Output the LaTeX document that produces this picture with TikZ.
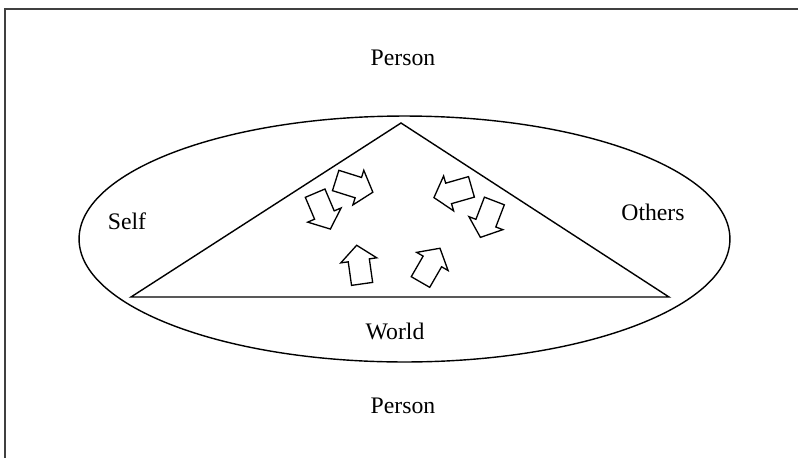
\documentclass[tikz,border=0pt]{standalone}
\usepackage{fontspec}
\setmainfont{Liberation Serif}
\usetikzlibrary{shapes.geometric, shapes.arrows, positioning, calc}
\tikzset{
    % Text
    lbl/.style={font=\fontsize{13.5}{16}\selectfont, inner sep=1pt},
    % Shapes
    outline/.style={draw, line width=0.8pt},
    blockArrow/.style={single arrow, draw, line width=0.75pt,
                       inner xsep=0pt, inner ysep=0.2cm,
                       minimum height=0.78cm,
                       single arrow head extend=0.15cm,
                       single arrow tip angle=100},
    frameLine/.style={draw=black!75, line width=1.1pt}
}
\begin{document}
\begin{tikzpicture}[x=0.02cm, y=-0.02cm]
\useasboundingbox (0,0) rectangle (798,457);

% frame
\coordinate (fbl) at (5,460);
\coordinate (ftl) at (5,9);
\coordinate (ftr) at (800,9);
\draw[frameLine] (fbl) -- (ftl) -- (ftr);

% person ellipse
\node[ellipse, outline, minimum width=13.02cm, minimum height=4.92cm] (person) at (404.5,239) {};

% triangle
\coordinate (apex) at (401,123);
\coordinate (left) at (131,297);
\coordinate (right) at (669,297);
\draw[outline] (apex) -- (left) -- (right) -- cycle;

% labels
\node[lbl] (personTop) at (403,58) {Person};
\node[lbl] (self) at (127,221) {Self};
\node[lbl] (others) at (653,212) {Others};
\node[lbl] (world) at (395,331) {World};
\node[lbl] (personBot) at (403,406) {Person};

% arrows
\node[blockArrow, rotate=-17.5] (selfOut) at (350,185) {};
\node[blockArrow, rotate=-67] (selfIn) at (321,207) {};
\node[blockArrow, rotate=196] (othersOut) at (457,191) {};
\node[blockArrow, rotate=-111] (othersIn) at (489,215) {};
\node[blockArrow, rotate=98] (worldSelf) at (360,269) {};
\node[blockArrow, rotate=60] (worldOthers) at (428,269) {};

\end{tikzpicture}
\end{document}
